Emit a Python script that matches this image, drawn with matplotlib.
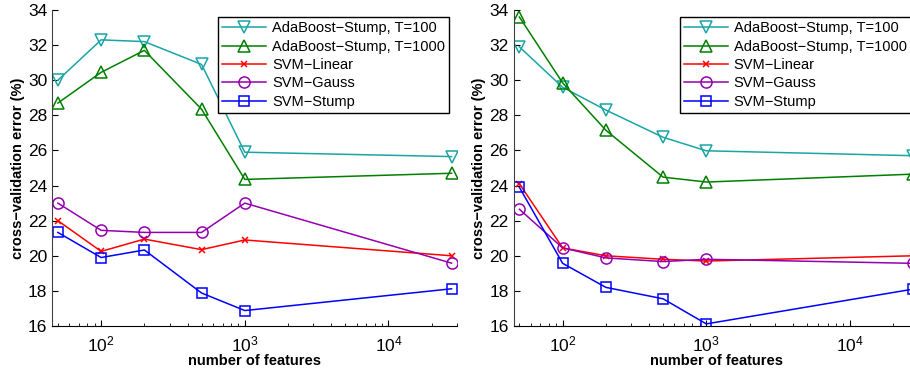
import numpy as np
import matplotlib
matplotlib.use('Agg')
import matplotlib.pyplot as plt

plt.rcParams['font.family'] = ['Liberation Sans', 'DejaVu Sans']
plt.rcParams['font.size'] = 10

# number of features (x values, log scale)
n_feat = [50, 100, 200, 500, 1000, 27500]

labels = ['AdaBoost\u2212Stump, T=100', 'AdaBoost\u2212Stump, T=1000',
          'SVM\u2212Linear', 'SVM\u2212Gauss', 'SVM\u2212Stump']

# left panel
left_ada100 = [30.0, 32.3, 32.2, 30.9, 25.9, 25.65]
left_ada1000 = [28.7, 30.45, 31.7, 28.35, 24.35, 24.7]
left_lin = [22.0, 20.25, 20.95, 20.35, 20.9, 20.0]
left_gauss = [23.0, 21.45, 21.33, 21.33, 23.0, 19.58]
left_stump = [21.33, 19.9, 20.33, 17.88, 16.88, 18.12]

# right panel
right_ada100 = [31.9, 29.6, 28.3, 26.75, 25.98, 25.7]
right_ada1000 = [33.6, 29.85, 27.15, 24.48, 24.2, 24.65]
right_lin = [24.1, 20.45, 20.0, 19.8, 19.7, 20.0]
right_gauss = [22.65, 20.45, 19.88, 19.67, 19.8, 19.57]
right_stump = [23.9, 19.57, 18.2, 17.55, 16.12, 18.1]

colors = ['#1aa5a5', '#007f00', '#ff0000', '#9400b0', '#0000ff']
markers = ['v', '^', 'x', 'o', 's']
msizes = [8, 8, 5, 8, 7]

fig = plt.figure(figsize=(9.1, 3.73), dpi=100)
ax1 = fig.add_axes([52/910, 1-326/373, 405/910, 316/373])
ax2 = fig.add_axes([513.5/910, 1-326/373, 405/910, 316/373])


def draw(ax, series):
    for s, c, m, ms, lab in zip(series, colors, markers, msizes, labels):
        ax.plot(n_feat, s, color=c, marker=m, markersize=ms, markerfacecolor='none',
                markeredgecolor=c, markeredgewidth=1.1, linewidth=1.1, label=lab)
    ax.set_xscale('log')
    ax.set_xlim(45.5, 30000)
    ax.set_ylim(16, 34)
    ax.set_yticks(np.arange(16, 35, 2))
    ax.spines['top'].set_visible(False)
    ax.spines['right'].set_visible(False)
    ax.spines['left'].set_color('#404040')
    ax.tick_params(which='both', direction='in', labelsize=12.5)
    ax.tick_params(axis='x', pad=6)
    ax.tick_params(which='major', length=4)
    ax.tick_params(which='minor', length=2)
    ax.set_xlabel('number of features', fontweight='bold', fontsize=10.5, labelpad=0)
    ax.set_ylabel('cross\u2212validation error (%)', fontweight='bold', fontsize=10.5, labelpad=2)
    leg = ax.legend(loc='upper left', bbox_to_anchor=(0.41, 0.978), borderaxespad=0,
                    fancybox=False, edgecolor='black', framealpha=1, fontsize=10.5,
                    handlelength=3.0, handletextpad=0.4, labelspacing=0.3,
                    borderpad=0.3, numpoints=1)
    leg.get_frame().set_linewidth(1.0)


draw(ax1, [left_ada100, left_ada1000, left_lin, left_gauss, left_stump])
draw(ax2, [right_ada100, right_ada1000, right_lin, right_gauss, right_stump])

fig.savefig('out.png', dpi=100)
